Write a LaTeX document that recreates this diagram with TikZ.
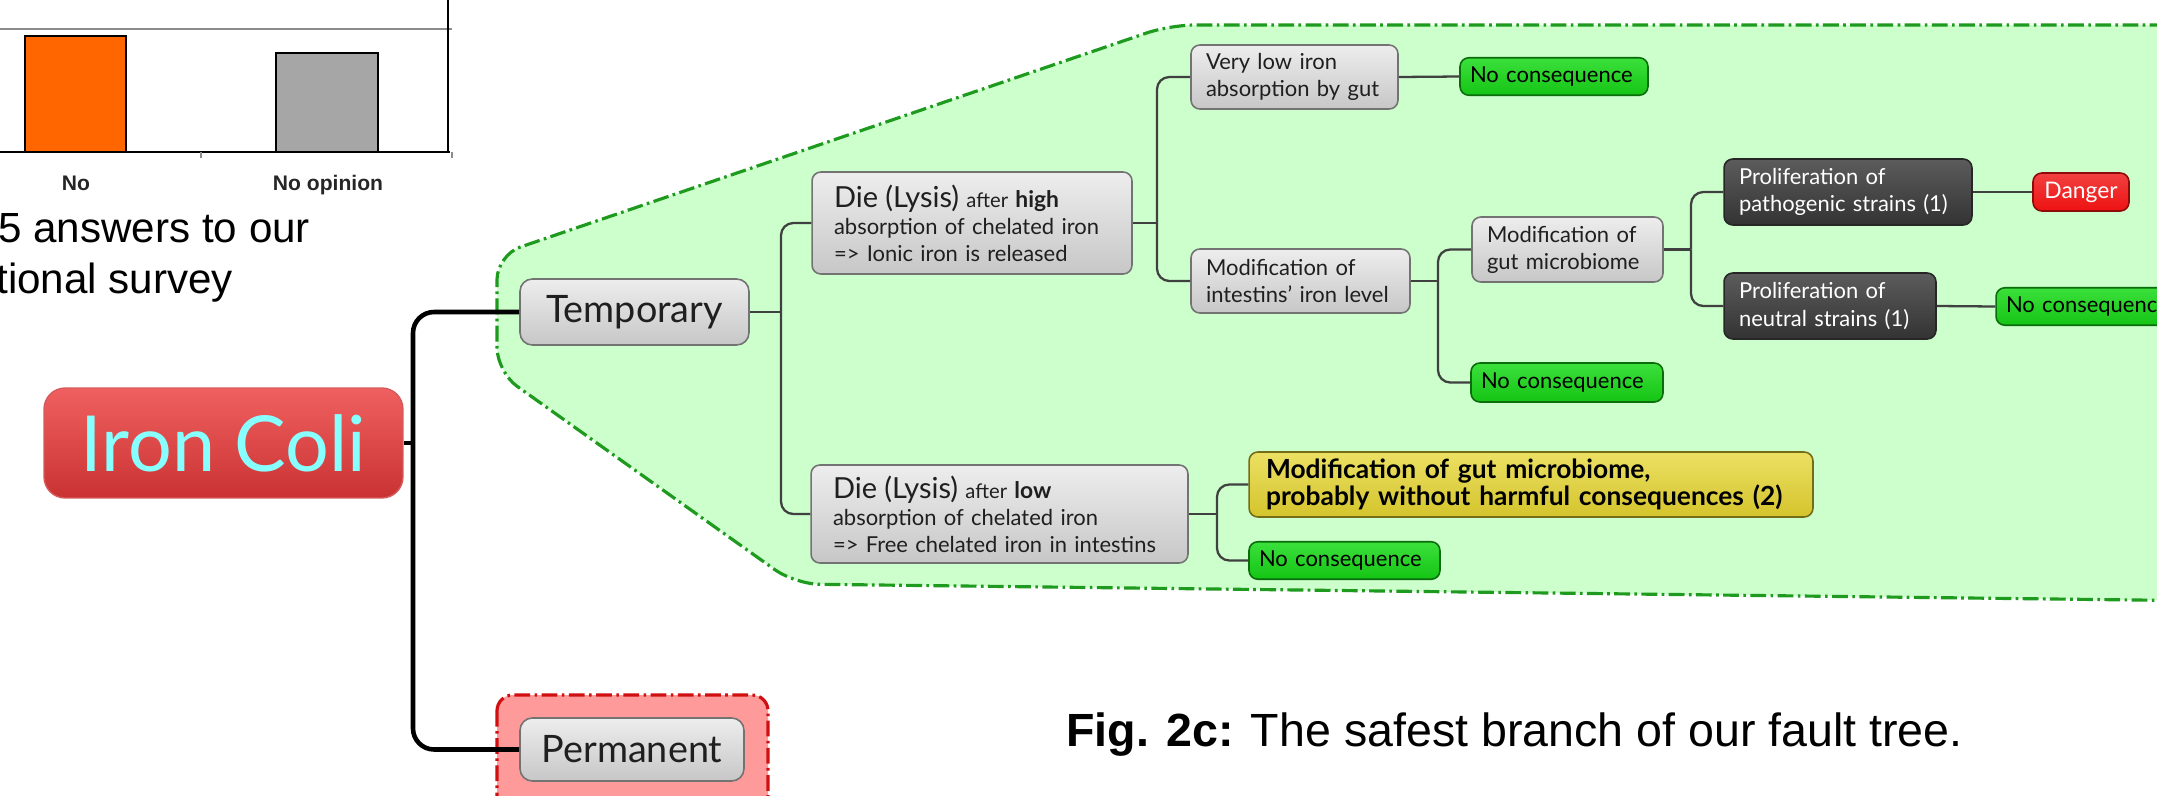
\documentclass[tikz,border=0pt]{standalone}
\usepackage{fontspec}
\setmainfont{Lato}
\newfontfamily\arialfont{Liberation Sans}
\usetikzlibrary{positioning,calc}

\definecolor{zonegreen}{HTML}{CCFFCC}
\definecolor{zonegreenline}{HTML}{1E9A1E}
\definecolor{zonered}{HTML}{FF9A9A}
\definecolor{zoneredline}{HTML}{D01010}
\definecolor{ironred}{HTML}{CA3232}
\definecolor{ironlight}{HTML}{F06060}
\definecolor{ironcyan}{HTML}{88FFFF}
\definecolor{okgreen}{HTML}{14C414}
\definecolor{oklight}{HTML}{3CE03C}
\definecolor{darkfill}{HTML}{333333}
\definecolor{dangerred}{HTML}{EE1111}
\definecolor{warnyellow}{HTML}{D4C42C}
\definecolor{warnlight}{HTML}{ECE064}
\definecolor{barorange}{HTML}{FF6600}
\definecolor{bargrey}{HTML}{A6A6A6}

\tikzset{
  mapbox/.style={rounded corners=5pt, line width=0.9pt, align=left, inner ysep=0pt,
    font=\fontsize{12.5}{15.4}\selectfont},
  greybox/.style={mapbox, draw=black!55, top color=black!7, middle color=black!18,
    bottom color=black!22, text=black!88, inner xsep=0.3cm},
  darkbox/.style={mapbox, draw=black!85, top color=darkfill!80!white, bottom color=darkfill,
    text=white, inner xsep=0.3cm},
  okbox/.style={mapbox, draw=okgreen!55!black, top color=oklight, bottom color=okgreen,
    text=black, inner xsep=0.2cm, minimum height=0.75cm, font=\fontsize{12.5}{15}\selectfont},
  warnbox/.style={mapbox, draw=warnyellow!55!black, top color=warnlight, bottom color=warnyellow,
    text=black, inner xsep=0.34cm, font=\bfseries\fontsize{15}{15.6}\selectfont},
  dangerbox/.style={mapbox, draw=dangerred!60!black, top color=dangerred!80!white,
    bottom color=dangerred, text=white, align=center, font=\fontsize{13}{15}\selectfont},
  branchbox/.style={greybox, align=center, rounded corners=7pt, font=\fontsize{21.5}{24}\selectfont},
  ironbox/.style={rounded corners=12pt, draw=ironred!80!white, line width=0.8pt,
    top color=ironlight, middle color=ironred, bottom color=ironred, text=ironcyan,
    font=\fontsize{44}{50}\selectfont},
  link/.style={draw=black!75, line width=1.3pt, rounded corners=7pt},
  rootlink/.style={draw=black, line width=2.6pt, rounded corners=12pt},
  greenzone/.style={draw=zonegreenline, fill=zonegreen, line width=1.8pt, rounded corners=14pt,
    dash pattern=on 9pt off 2.5pt on 1.5pt off 2.5pt},
  redzone/.style={draw=zoneredline, fill=zonered, line width=1.8pt, rounded corners=9pt,
    dash pattern=on 9pt off 2.5pt on 1.5pt off 2.5pt},
  barbox/.style={draw=black, line width=1.3pt},
  axisline/.style={draw=black, line width=1.7pt},
  gridline/.style={draw=black!45, line width=0.7pt},
  barlabel/.style={anchor=base, inner sep=0pt, text=black!85,
    font=\arialfont\bfseries\fontsize{12}{14}\selectfont},
  bodytext/.style={anchor=base west, inner sep=0pt, text=black,
    font=\arialfont\fontsize{24}{28}\selectfont},
}

\begin{document}
\begin{tikzpicture}[x=0.02cm, y=-0.02cm]
                        \useasboundingbox (0,0) rectangle (2157,795);
                        \clip (0,0) rectangle (2157,795);
                        {

                        % Drawing survey chart (cut at the border)
                        \draw [gridline] (0,29) -- (452,29);%
                        \draw [barbox, fill=barorange] (25,152) rectangle (126,36);%
                        \draw [barbox, fill=bargrey] (276,152) rectangle (378,53);%
                        \draw [axisline] (0,152) -- (450,152);%
                        \draw [axisline] (448,0) -- (448,152);%
                        \draw [gridline] (201,152) -- (201,158);%
                        \draw [gridline] (452,152) -- (452,158);%
                        \node [barlabel] (labno) at (76,190) {No};%
                        \node [barlabel] (labnoopinion) at (328,190) {No opinion};%

                        % Marking survey caption
                        \node [bodytext] (surveyA) at (-2,242) {5 answers to our};%
                        \node [bodytext] (surveyB) at (-4,293) {tional survey};%

                        % Drawing safe and unsafe zones
                        \draw [greenzone] (2220,25) -- (1170,25) -- (497,255) -- (497,372) -- (795,584) -- (2220,601);%
                        \draw [redzone] (497,695) rectangle (768,840);%

                        % Drawing root node
                        \node [ironbox, minimum width=7.18cm, minimum height=2.2cm] (iron) at (223.5,443) {Iron Coli};%

                        % Drawing branch nodes
                        \node [branchbox, minimum width=4.58cm, minimum height=1.32cm] (temp) at (634.5,312) {Temporary};%
                        \node [branchbox, minimum width=4.48cm, minimum height=1.26cm] (perm) at (632,749.5) {Permanent};%

                        % Drawing lysis nodes
                        \node [greybox, inner xsep=0.44cm, text width=5.52cm, minimum height=2.04cm] (diehigh) at (972,223)
                          {{\fontsize{16.5}{19}\selectfont Die (Lysis)} {\fontsize{11.5}{14}\selectfont after} {\bfseries\fontsize{13}{15}\selectfont high}\\
                           absorption of chelated iron\\
                           => Ionic iron is released};%
                        \node [greybox, inner xsep=0.44cm, text width=6.66cm, minimum height=1.96cm] (dielow) at (999.5,514)
                          {{\fontsize{16.5}{19}\selectfont Die (Lysis)} {\fontsize{11.5}{14}\selectfont after} {\bfseries\fontsize{13}{15}\selectfont low}\\
                           absorption of chelated iron\\
                           => Free chelated iron in intestins};%

                        % Drawing consequence nodes
                        \node [greybox, text width=3.54cm, minimum height=1.28cm] (verylow) at (1294.5,77) {Very low iron\\ absorption by gut};%
                        \node [greybox, text width=3.78cm, minimum height=1.28cm] (modintestin) at (1300.5,281) {Modification of\\ intestins' iron level};%
                        \node [greybox, text width=3.22cm, minimum height=1.3cm] (modgut) at (1567.5,249.5) {Modification of\\ gut microbiome};%
                        \node [darkbox, text width=4.36cm, minimum height=1.32cm] (prolpatho) at (1848,192) {Proliferation of\\ pathogenic strains (1)};%
                        \node [darkbox, text width=3.64cm, minimum height=1.32cm] (prolneutral) at (1830,306) {Proliferation of\\ neutral strains (1)};%
                        \node [warnbox, text width=10.6cm, minimum height=1.3cm] (modgutsafe) at (1531,484.5)
                          {Modification of gut microbiome,\\ probably without harmful consequences (2)};%

                        % Drawing leaf nodes
                        \node [okbox, text width=3.36cm] (noconsA) at (1554,76.5) {\mbox{No consequence}};%
                        \node [okbox, text width=3.44cm, minimum height=0.78cm] (noconsB) at (1567,382.5) {\mbox{No consequence}};%
                        \node [okbox, text width=3.4cm] (noconsC) at (2091,306.5) {\mbox{No consequence}};%
                        \node [okbox, text width=3.42cm] (noconsD) at (1344.5,560.5) {\mbox{No consequence}};%
                        \node [dangerbox, minimum width=1.92cm, minimum height=0.76cm] (danger) at (2081,192) {Danger};%

                        % Drawing junction points
                        \coordinate (jiron) at (413,443);%
                        \coordinate (jtemp) at (781,312);%
                        \coordinate (jdiehigh) at (1157,223);%
                        \coordinate (jmodintestin) at (1438,281);%
                        \coordinate (jmodgut) at (1691,249.5);%
                        \coordinate (jdielow) at (1217,514);%

                        % Drawing line Iron Coli to branches
                        \draw [rootlink] (iron.east) -- (jiron);%
                        \draw [rootlink] (jiron) |- (temp.west);%
                        \draw [rootlink] (jiron) |- (perm.west);%

                        % Drawing line Temporary to lysis nodes
                        \draw [link] (temp.east) -- (jtemp);%
                        \draw [link] (jtemp) |- (diehigh.west);%
                        \draw [link] (jtemp) |- (dielow.west);%

                        % Drawing line high lysis to consequences
                        \draw [link] (diehigh.east) -- (jdiehigh);%
                        \draw [link] (jdiehigh) |- (verylow.west);%
                        \draw [link] (jdiehigh) |- (modintestin.west);%
                        \draw [link] (verylow.east) -- (noconsA.west);%

                        % Drawing line intestin iron level to microbiome
                        \draw [link] (modintestin.east) -- (jmodintestin);%
                        \draw [link] (jmodintestin) |- (modgut.west);%
                        \draw [link] (jmodintestin) |- (noconsB.west);%

                        % Drawing line microbiome to proliferations
                        \draw [link] (modgut.east) -- (jmodgut);%
                        \draw [link] (jmodgut) |- (prolpatho.west);%
                        \draw [link] (jmodgut) |- (prolneutral.west);%
                        \draw [link] (prolpatho.east) -- (danger.west);%
                        \draw [link] (prolneutral.east) -- (noconsC.west);%

                        % Drawing line low lysis to consequences
                        \draw [link] (dielow.east) -- (jdielow);%
                        \draw [link] (jdielow) |- (modgutsafe.west);%
                        \draw [link] (jdielow) |- (noconsD.west);%

                        % Marking figure caption
                        \node [anchor=base west, inner sep=0pt, font=\arialfont\fontsize{26.5}{30}\selectfont] (figcaption) at (1066,746)
                          {\textbf{Fig. 2c:} The safest branch of our fault tree.};%
                        }
                    \end{tikzpicture}
\end{document}
